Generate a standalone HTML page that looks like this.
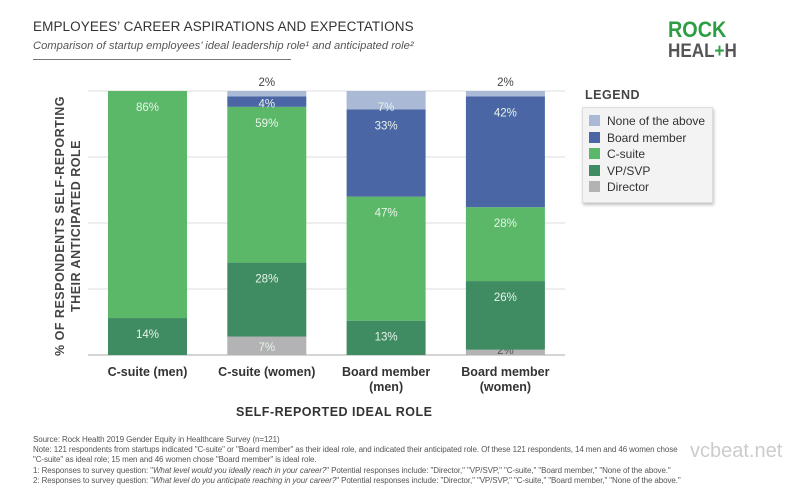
<!DOCTYPE html>
<html><head><meta charset="utf-8"><style>
body{margin:0;width:790px;height:496px;background:#fff;font-family:"Liberation Sans",sans-serif;overflow:hidden;position:relative}
.t{position:absolute;white-space:nowrap}
</style></head><body>
<div class="t" style="left:33px;top:19px;font-size:13.5px;letter-spacing:0.1px;color:#333">EMPLOYEES’ CAREER ASPIRATIONS AND EXPECTATIONS</div>
<div class="t" style="left:33px;top:40px;font-size:11.2px;font-style:italic;color:#555">Comparison of startup employees’ ideal leadership role¹ and anticipated role²</div>
<div style="position:absolute;left:33px;top:59px;width:258px;height:1px;background:#777"></div>
<div class="t" style="left:668px;top:20px;font-size:22px;font-weight:bold;line-height:20px;color:#2e9e44;transform:scaleX(0.9);transform-origin:left">ROCK<br><span style="color:#555;font-size:19px">HEAL<span style="color:#2e9e44">+</span>H</span></div>
<svg id="c" width="790" height="496" style="position:absolute;left:0;top:0"></svg>
<div class="t" style="left:585px;top:88px;font-size:12.5px;font-weight:bold;color:#444;letter-spacing:0.5px">LEGEND</div>
<div style="position:absolute;left:582px;top:107px;width:129px;height:94px;background:#f3f3f3;border:1px solid #ddd;box-shadow:1px 2px 3px rgba(0,0,0,0.25)"></div>
<div id="leg"></div>
<div class="t" style="left:236px;top:405px;font-size:12.5px;font-weight:bold;color:#333;letter-spacing:0.5px">SELF-REPORTED IDEAL ROLE</div>
<div class="t" style="left:-82px;top:210px;width:300px;text-align:center;font-size:12.5px;font-weight:bold;color:#444;letter-spacing:0.5px;line-height:16px;transform:rotate(-90deg)">% OF RESPONDENTS SELF-REPORTING<br>THEIR ANTICIPATED ROLE</div>
<div class="t" style="left:33px;top:435px;font-size:8px;line-height:10.2px;color:#555;letter-spacing:-0.1px">Source: Rock Health 2019 Gender Equity in Healthcare Survey (n=121)<br>Note: 121 respondents from startups indicated "C-suite" or "Board member" as their ideal role, and indicated their anticipated role. Of these 121 respondents, 14 men and 46 women chose<br>"C-suite" as ideal role; 15 men and 46 women chose "Board member" is ideal role.<br>1: Responses to survey question: "<i>What level would you ideally reach in your career?</i>" Potential responses include: "Director," "VP/SVP," "C-suite," "Board member," "None of the above."<br>2: Responses to survey question: "<i>What level do you anticipate reaching in your career?</i>" Potential responses include: "Director," "VP/SVP," "C-suite," "Board member," "None of the above."</div>
<div class="t" style="left:690px;top:440px;font-size:20px;color:#ccc">vcbeat.net</div>
<script>
const categories=["C-suite (men)","C-suite (women)","Board member (men)","Board member (women)"];
const director=[0,7,0,2];
const vpsvp=[14,28,13,26];
const csuite=[86,59,47,28];
const board=[0,4,33,42];
const none=[0,2,7,2];
const yTicks=[0,25,50,75,100];
const seriesNames=["Director","VP/SVP","C-suite","Board member","None of the above"];
const seriesData=[director,vpsvp,csuite,board,none];
const colors=["#b3b3b5","#3f8b62","#5bb868","#4a66a4","#a9b9d6"];
const x0=88,x1=565,yB=355,yT=91;
const y=v=>yB-(v/100)*(yB-yT);
const bx=i=>108+i*119.3, bw=79;
const svg=document.getElementById('c');const NS="http://www.w3.org/2000/svg";
function mk(t,a){const e=document.createElementNS(NS,t);for(const k in a)e.setAttribute(k,a[k]);svg.appendChild(e);return e;}
yTicks.forEach(t=>{const l=mk('line',{x1:x0,x2:x1,y1:y(t),y2:y(t),stroke:t==0?'#aaa':'#ddd','stroke-width':1});

});
categories.forEach((c,i)=>{let acc=0;
const total=seriesData.reduce((s,a)=>s+a[i],0);
seriesData.forEach((s,k)=>{const v=s[i];if(!v){return;}
const r=mk('rect',{x:bx(i),y:y(acc+v),width:bw,height:y(acc)-y(acc+v),fill:colors[k]});


let ty=y(acc+v)+20, fill='#e8f4ea';
if(v<=4){ if(acc+v>=total){ty=y(acc+v)-5;fill='#444';} else if(acc==0){ty=y(0)-1;fill='#555';} else ty=y(acc+v)+11; }
else if(k==0) ty=y(0)-4;
const t=mk('text',{x:bx(i)+bw/2,y:ty,'text-anchor':'middle','font-size':11.5,fill:fill,'font-family':'Liberation Sans, sans-serif'});
t.textContent=v+'%';


acc+=v;});
const lines=c.includes('Board')?['Board member',c.includes('(men)')?'(men)':'(women)']:[c];
lines.forEach((ln,j)=>{const t=mk('text',{x:bx(i)+bw/2,y:376+j*15,'text-anchor':'middle','font-size':12.5,'font-weight':'bold',fill:'#333','font-family':'Liberation Sans, sans-serif'});
t.textContent=ln;

});
});
const leg=document.getElementById('leg');
[4,3,2,1,0].forEach((k,j)=>{const d=document.createElement('div');d.className='t';
d.style.cssText=`left:589px;top:${114+j*16.5}px;font-size:12px;color:#333;z-index:2`;
d.innerHTML=`<span style="display:inline-block;width:11px;height:11px;background:${colors[k]};vertical-align:-1px;margin-right:7px"></span>${seriesNames[k]}`;


leg.appendChild(d);});
</script>
</body></html>
